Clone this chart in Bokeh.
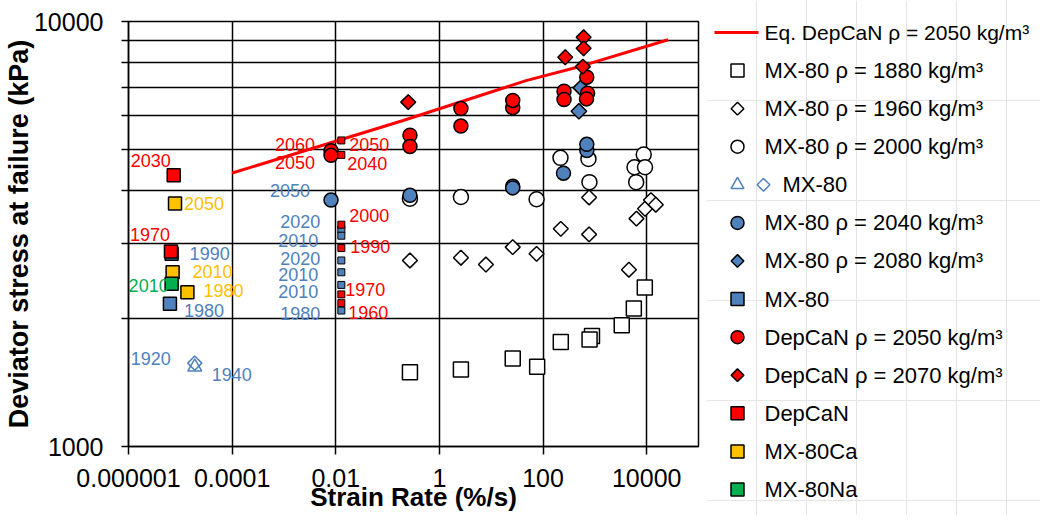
import numpy as np
from bokeh.plotting import figure
from bokeh.models import (FixedTicker, CustomJSTickFormatter, Range1d,
                          ColumnDataSource, Plot)
from bokeh.layouts import row
from bokeh.core.properties import value
from bokeh.embed import file_html
from bokeh.resources import INLINE

FONT = "Liberation Sans"
BLUE = "#4F81BD"
RED = "#FF0000"
ORANGE = "#FFC000"
GREEN = "#00B050"

# ---------------- data ----------------
x_tick_values = [1e-6, 1e-4, 1e-2, 1, 100, 1e4]
x_tick_labels = ["0.000001", "0.0001", "0.01", "1", "100", "10000"]
y_tick_values = [1000, 10000]
y_tick_labels = ["1000", "10000"]
y_minor_ticks = [2000, 3000, 4000, 5000, 6000, 7000, 8000, 9000]

x_title = "Strain Rate (%/s)"
y_title = "Deviator stress at failure (kPa)"

legend_labels = [
    "Eq. DepCaN \u03c1 = 2050  kg/m\u00b3",
    "MX-80 \u03c1 = 1880 kg/m\u00b3",
    "MX-80 \u03c1 = 1960 kg/m\u00b3",
    "MX-80 \u03c1 = 2000 kg/m\u00b3",
    "MX-80",
    "MX-80 \u03c1 = 2040 kg/m\u00b3",
    "MX-80 \u03c1 = 2080 kg/m\u00b3",
    "MX-80",
    "DepCaN \u03c1 = 2050 kg/m\u00b3",
    "DepCaN \u03c1 = 2070 kg/m\u00b3",
    "DepCaN",
    "MX-80Ca",
    "MX-80Na",
]

# Eq. DepCaN line
eq_x = [1e-4, 0.2, 47, 540, 26000]
eq_y = [4400, 5850, 7260, 7850, 9060]

# MX-80 rho = 1880 (open squares)
mx1880_x = [0.27, 2.6, 26, 77, 220, 880, 790, 3300, 5650, 9200]
mx1880_y = [1496, 1517, 1611, 1541, 1762, 1820, 1786, 1928, 2112, 2366]

# MX-80 rho = 1960 (open diamonds)
mx1960_x = [0.27, 2.6, 7.9, 26, 75, 4540, 220, 774, 774, 6350, 9290, 12100, 15000]
mx1960_y = [2740, 2781, 2680, 2945, 2840, 2606, 3252, 3855, 3156, 3437, 3626, 3800, 3706]

# MX-80 rho = 2000 (open circles)
mx2000_x = [0.27, 2.6, 75, 217, 752, 786, 5820, 6270, 8770, 9290]
mx2000_y = [3828, 3865, 3818, 4777, 4750, 4188, 4540, 4188, 4865, 4540]

# MX-80 (open blue triangle / diamond)
mxold_tri_x = [1.9e-5]
mxold_tri_y = [1538]
mxold_tri_lab = ["1940"]
mxold_dia_x = [1.9e-5]
mxold_dia_y = [1571]
mxold_dia_lab = ["1920"]

# MX-80 rho = 2040 (blue circles)
mx2040_x = [0.0081, 0.27, 26, 26, 248, 699, 699]
mx2040_y = [3800, 3900, 4094, 4060, 4397, 4970, 5140]
mx2040_lab = ["2050", "", "", "", "", "", ""]

# MX-80 rho = 2080 (blue diamonds)
mx2080_x = [492, 537]
mx2080_y = [6150, 6980]

# MX-80 (blue squares): long-term tests and rate tests
mxsq_a_x = [6.8e-6, 6.3e-6]
mxsq_a_y = [2840, 2168]
mxsq_a_lab = ["1990", "1980"]
mxsq_b_x = [0.0128, 0.0128, 0.0128, 0.0128, 0.0128, 0.0128]
mxsq_b_y = [3243, 3133, 2740, 2570, 2400, 2089]
mxsq_b_lab = ["2020", "2010", "2020", "2010", "2010", "1980"]

# DepCaN rho = 2050 (red circles)
dep2050_x = [0.0081, 0.0081, 0.27, 0.27, 2.6, 2.6, 26, 26, 254, 254, 697, 724, 690]
dep2050_y = [4965, 4842, 5400, 5080, 6240, 5675, 6270, 6520, 6855, 6550, 7395, 6780, 6575]
dep2050_lab = ["2060", "2050", "", "", "", "", "", "", "", "", "", "", ""]

# DepCaN rho = 2070 (red diamonds)
dep2070_x = [0.25, 268, 607, 607, 586]
dep2070_y = [6460, 8240, 9180, 8650, 7830]

# DepCaN (red squares)
depsq_a_x = [7.45e-6, 6.6e-6]
depsq_a_y = [4348, 2876]
depsq_a_lab = ["2030", "1970"]
depsq_b_x = [0.0128, 0.0128, 0.0128, 0.0128, 0.0128, 0.0128]
depsq_b_y = [5250, 4855, 3326, 2930, 2280, 2174]
depsq_b_lab = ["2050", "2040", "2000", "1990", "1970", "1960"]

# MX-80Ca (orange squares)
ca_x = [7.9e-6, 7.1e-6, 1.37e-5]
ca_y = [3732, 2570, 2305]
ca_lab = ["2050", "2010", "1980"]

# MX-80Na (green square)
na_x = [6.8e-6]
na_y = [2416]
na_lab = ["2010"]

# label offsets in screen pixels (dx right, dy down) -- layout only
mxold_tri_off = [(37, 7)]
mxold_dia_off = [(-44, -5)]
mx2040_off = [(-41, -10)] + [(0, 0)] * 6
mxsq_a_off = [(38, 0), (34, 7)]
mxsq_b_off = [(-41, -8), (-43, 5), (-41, -2), (-43, 2), (-43, 7), (-41, 3)]
dep2050_off = [(-36, -6), (-36, 7)] + [(0, 0)] * 11
depsq_a_off = [(-23, -15), (-21, -17)]
depsq_b_off = [(28, 4), (26, 9), (28, -9), (29, -2), (24, -5), (27, 9)]
ca_off = [(29, 0), (40, -1), (36, -2)]
na_off = [(-23, 2)]

# ---------------- layout constants (pixels) ----------------
H = 515
W_MAIN, W_LEG = 706, 334
FL, FR, FT, FB = 124, 698, 21, 446   # frame edges of the main plot

fa = {"frame_align": False} if "frame_align" in Plot.properties() else {}

p = figure(width=W_MAIN, height=H, x_axis_type="log", y_axis_type="log",
           x_range=Range1d(1e-6, 1e5), y_range=Range1d(1000, 10000),
           output_backend="svg", toolbar_location=None, title=None,
           min_border_left=FL, min_border_right=W_MAIN - FR, min_border_top=FT,
           min_border_bottom=H - FB, **fa)
p.background_fill_color = "white"
p.border_fill_color = "white"
p.outline_line_color = "black"
p.outline_line_width = 1.5
p.outline_line_alpha = 1

xt = FixedTicker(ticks=x_tick_values)
yt = FixedTicker(ticks=y_tick_values, minor_ticks=y_minor_ticks)
p.xaxis.ticker = xt
p.yaxis.ticker = yt
p.xgrid.ticker = xt
p.ygrid.ticker = yt

fmt_code = """
for (let i = 0; i < v.length; i++) {
  if (Math.abs(Math.log10(tick) - Math.log10(v[i])) < 1e-6) return l[i];
}
return '';
"""
p.xaxis.formatter = CustomJSTickFormatter(args=dict(v=x_tick_values, l=x_tick_labels), code=fmt_code)
p.yaxis.formatter = CustomJSTickFormatter(args=dict(v=y_tick_values, l=y_tick_labels), code=fmt_code)

for ax in (p.xaxis[0], p.yaxis[0]):
    ax.axis_line_color = "black"
    ax.axis_line_width = 1.5
    ax.major_tick_line_color = "black"
    ax.major_tick_line_width = 1.5
    ax.major_tick_in = 0
    ax.minor_tick_in = 0
    ax.minor_tick_line_color = "black"
    ax.minor_tick_line_width = 1.5
    ax.major_label_text_font = FONT
    ax.major_label_text_font_size = "25px"
    ax.major_label_text_color = "black"
    ax.axis_label_text_font = FONT
    ax.axis_label_text_font_style = "bold"
    ax.axis_label_text_color = "black"

p.xaxis.major_tick_out = 8
p.xaxis.minor_tick_out = 0
p.xaxis.major_label_standoff = 14
p.xaxis.axis_label = x_title
p.xaxis.axis_label_text_font_size = "26px"
p.xaxis.axis_label_standoff = -8

p.yaxis.major_tick_out = 7
p.yaxis.minor_tick_out = 7
p.yaxis.major_label_standoff = 18
p.yaxis.axis_label = y_title
p.yaxis.axis_label_text_font_size = "27px"
p.yaxis.axis_label_standoff = -3

for g in (p.xgrid[0], p.ygrid[0]):
    g.grid_line_color = "black"
    g.grid_line_width = 1.5
    g.grid_line_alpha = 1
p.ygrid.minor_grid_line_color = "black"
p.ygrid.minor_grid_line_width = 1.5

ANG = np.pi / 4
LW = 1.5

p.line(eq_x, eq_y, line_color=RED, line_width=3)
p.scatter(mx1880_x, mx1880_y, marker="square", size=15, fill_color="white", line_color="black", line_width=LW)
p.scatter(mx1960_x, mx1960_y, marker="square", angle=ANG, size=10.5, fill_color="white", line_color="black", line_width=LW)
p.scatter(mx2000_x, mx2000_y, marker="circle", size=15, fill_color="white", line_color="black", line_width=LW)
p.scatter(mxold_tri_x, mxold_tri_y, marker="triangle", size=14, fill_color=None, line_color=BLUE, line_width=LW)
p.scatter(mxold_dia_x, mxold_dia_y, marker="square", angle=ANG, size=10, fill_color=None, line_color=BLUE, line_width=LW)
p.scatter(mx2040_x, mx2040_y, marker="circle", size=14, fill_color=BLUE, line_color="black", line_width=LW)
p.scatter(mx2080_x, mx2080_y, marker="square", angle=ANG, size=11, fill_color=BLUE, line_color="black", line_width=LW)
p.scatter(mxsq_a_x, mxsq_a_y, marker="square", size=13, fill_color=BLUE, line_color="black", line_width=LW)
p.scatter(mxsq_b_x, mxsq_b_y, marker="square", size=7, fill_color=BLUE, line_color="black", line_width=1)
p.scatter(dep2050_x, dep2050_y, marker="circle", size=14, fill_color=RED, line_color="black", line_width=LW)
p.scatter(dep2070_x, dep2070_y, marker="square", angle=ANG, size=10.5, fill_color=RED, line_color="black", line_width=LW)
p.scatter(depsq_a_x, depsq_a_y, marker="square", size=13, fill_color=RED, line_color="black", line_width=LW)
p.scatter(depsq_b_x, depsq_b_y, marker="square", size=7, fill_color=RED, line_color="black", line_width=1)
p.scatter(ca_x, ca_y, marker="square", size=13, fill_color=ORANGE, line_color="black", line_width=LW)
p.scatter(na_x, na_y, marker="square", size=13, fill_color=GREEN, line_color="black", line_width=LW)


def add_labels(xs, ys, labs, offs, color):
    keep = [i for i, t in enumerate(labs) if t]
    src = ColumnDataSource(dict(
        x=[xs[i] for i in keep], y=[ys[i] for i in keep], t=[labs[i] for i in keep],
        dx=[offs[i][0] for i in keep], dy=[offs[i][1] for i in keep]))
    p.text(x="x", y="y", text="t", x_offset="dx", y_offset="dy", source=src,
           text_align="center", text_baseline="middle", text_color=color,
           text_font=value(FONT), text_font_size="18px")


add_labels(mxold_tri_x, mxold_tri_y, mxold_tri_lab, mxold_tri_off, BLUE)
add_labels(mxold_dia_x, mxold_dia_y, mxold_dia_lab, mxold_dia_off, BLUE)
add_labels(mx2040_x, mx2040_y, mx2040_lab, mx2040_off, BLUE)
add_labels(mxsq_a_x, mxsq_a_y, mxsq_a_lab, mxsq_a_off, BLUE)
add_labels(mxsq_b_x, mxsq_b_y, mxsq_b_lab, mxsq_b_off, BLUE)
add_labels(dep2050_x, dep2050_y, dep2050_lab, dep2050_off, RED)
add_labels(depsq_a_x, depsq_a_y, depsq_a_lab, depsq_a_off, RED)
add_labels(depsq_b_x, depsq_b_y, depsq_b_lab, depsq_b_off, RED)
add_labels(ca_x, ca_y, ca_lab, ca_off, ORANGE)
add_labels(na_x, na_y, na_lab, na_off, GREEN)

# ---------------- legend panel ----------------
leg = figure(width=W_LEG, height=H, x_range=Range1d(0, W_LEG), y_range=Range1d(H, 0),
             output_backend="svg", toolbar_location=None, title=None,
             x_axis_location=None, y_axis_location=None, min_border=0, **fa)
leg.outline_line_color = None
leg.background_fill_color = "white"
leg.border_fill_color = "white"

X0 = W_MAIN                      # legend panel starts here in page pixels
ROW0, PITCH = 32, 38.08
MX, TX = 737 - X0, 764 - X0
rows_y = [ROW0 + PITCH * i for i in range(len(legend_labels))]

styles = [
    None,
    ("square", 13, 0, "white", "black"),
    ("square", 9, ANG, "white", "black"),
    ("circle", 13, 0, "white", "black"),
    ("triangle", 13, 0, None, BLUE),
    ("circle", 13, 0, BLUE, "black"),
    ("square", 9, ANG, BLUE, "black"),
    ("square", 13, 0, BLUE, "black"),
    ("circle", 13, 0, RED, "black"),
    ("square", 9, ANG, RED, "black"),
    ("square", 13, 0, RED, "black"),
    ("square", 13, 0, ORANGE, "black"),
    ("square", 13, 0, GREEN, "black"),
]
leg.line([714 - X0, 758 - X0], [rows_y[0], rows_y[0]], line_color=RED, line_width=3)
for i, st in enumerate(styles):
    if st is None:
        continue
    m, s, a, f, lc = st
    leg.scatter([MX], [rows_y[i]], marker=m, size=s, angle=a, fill_color=f,
                line_color=lc, line_width=LW)
leg.scatter([763 - X0], [rows_y[4]], marker="square", angle=ANG, size=9,
            fill_color=None, line_color=BLUE, line_width=LW)

tx = [TX] * len(legend_labels)
tx[4] = 782 - X0
# first (longest) entry slightly smaller so that it fits the canvas
leg.text(x=tx[:1], y=rows_y[:1], text=legend_labels[:1], text_align="left", text_baseline="middle",
         text_font=value(FONT), text_font_size="21px", text_color="black")
leg.text(x=tx[1:], y=rows_y[1:], text=legend_labels[1:], text_align="left", text_baseline="middle",
         text_font=value(FONT), text_font_size="22px", text_color="black")

open("out.html", "w").write(file_html(row(p, leg), INLINE))
